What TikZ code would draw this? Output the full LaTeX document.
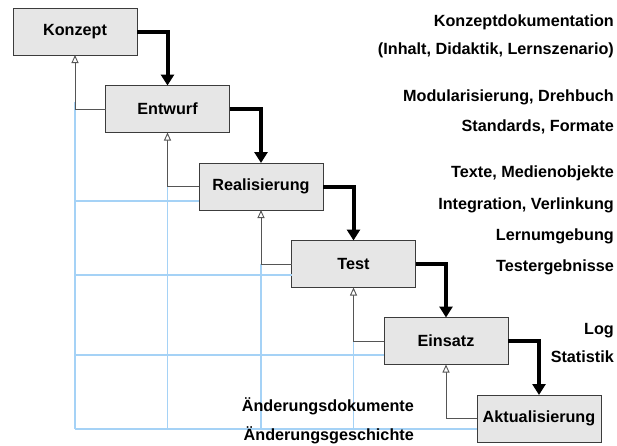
\documentclass[tikz,border=0pt]{standalone}
\usepackage{fontspec}
\setsansfont{Liberation Sans}
\usetikzlibrary{arrows.meta}
\definecolor{gridblue}{RGB}{165,210,246}
\definecolor{boxfill}{RGB}{230,230,230}
\definecolor{boxline}{RGB}{60,60,60}
\definecolor{retline}{RGB}{85,85,85}
\tikzset{
  phase/.style={draw=boxline, fill=boxfill, line width=1pt,
    minimum width=124pt, minimum height=47pt, inner sep=0pt, outer sep=0pt,
    font=\sffamily\bfseries\fontsize{16.2}{19}\selectfont},
  fwd/.style={line width=4pt, line join=miter,
    -{Triangle[width=13pt,length=11pt]}},
  ret/.style={draw=retline, line width=0.9pt,
    -{Triangle[open,width=7pt,length=8pt,fill=white]}},
  gridline/.style={draw=gridblue, line width=1.2pt},
  note/.style={anchor=base east, inner sep=0pt,
    font=\sffamily\bfseries\fontsize{16.2}{19}\selectfont}
}
\begin{document}
\begin{tikzpicture}[x=1pt, y=-1pt]
\useasboundingbox (0,0) rectangle (617,445);

% phase boxes
\node[phase] (k) at (75,31.5)   {Konzept};
\node[phase] (e) at (167.5,109) {Entwurf};
\node[phase] (r) at (261,186.5) {Realisierung};
\node[phase] (t) at (353.5,264) {Test};
\node[phase] (s) at (446,341)   {Einsatz};
\node[phase] (a) at (539,418.5) {Aktualisierung};

% light blue grid behind the feedback lines
\coordinate (g1) at (75,102);
\coordinate (g2) at (167.5,186.5);
\coordinate (g3) at (261,264);
\coordinate (g4) at (353.5,341);
\coordinate (h1) at (75,201);
\coordinate (h2) at (75,275);
\coordinate (h3) at (75,355);
\coordinate (h4) at (75,429);
\draw[gridline] (g1) -- (g1 |- h4);
\draw[gridline] (g2) -- (g2 |- h4);
\draw[gridline] (g3) -- (g3 |- h4);
\draw[gridline] (g4) -- (g4 |- h4);
\draw[gridline] (h1) -- (h1 -| r.west);
\draw[gridline] (h2) -- (h2 -| t.west);
\draw[gridline] (h3) -- (h3 -| s.west);
\draw[gridline] (h4) -- (h4 -| a.west);

% feedback to the previous phase
\draw[ret] (e.west) -| (k.south);
\draw[ret] (r.west) -| (e.south);
\draw[ret] (t.west) -| (r.south);
\draw[ret] (s.west) -| (t.south);
\draw[ret] (a.west) -| (s.south);

% main flow
\draw[fwd] (k.east) -| (e.north);
\draw[fwd] (e.east) -| (r.north);
\draw[fwd] (r.east) -| (t.north);
\draw[fwd] (t.east) -| (s.north);
\draw[fwd] (s.east) -| (a.north);

% results of each phase
\node[note] (n1)  at (614,26)  {Konzeptdokumentation};
\node[note] (n2)  at (614,54)  {(Inhalt, Didaktik, Lernszenario)};
\node[note] (n3)  at (614,101) {Modularisierung, Drehbuch};
\node[note] (n4)  at (614,131) {Standards, Formate};
\node[note] (n5)  at (614,177) {Texte, Medienobjekte};
\node[note] (n6)  at (614,209) {Integration, Verlinkung};
\node[note] (n7)  at (614,240) {Lernumgebung};
\node[note] (n8)  at (614,271) {Testergebnisse};
\node[note] (n9)  at (614,334) {Log};
\node[note] (n10) at (614,362) {Statistik};
\node[note] (n11) at (414,411) {Änderungsdokumente};
\node[note] (n12) at (414,440) {Änderungsgeschichte};
\end{tikzpicture}
\end{document}
